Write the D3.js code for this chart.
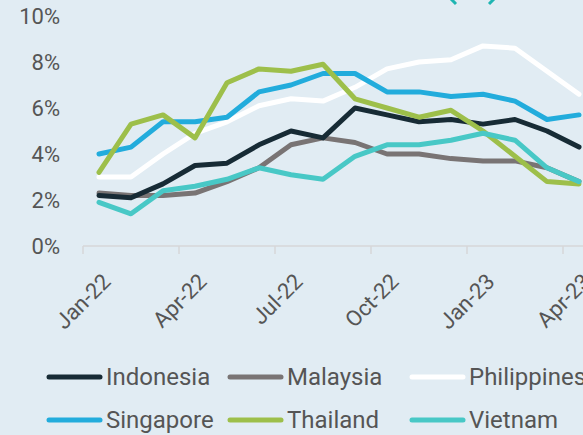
<!DOCTYPE html>
<html>
<head>
<meta charset="utf-8">
<script src="https://cdn.jsdelivr.net/npm/d3@7"></script>
<style>
  html, body { margin: 0; padding: 0; background: #e1ecf3; }
  svg { display: block; font-family: Roboto, "Noto Sans", sans-serif; }
</style>
</head>
<body>
<div id="chart"></div>
<script>
// monthly, Jan-22 .. Apr-23
var months = ["Jan-22","Feb-22","Mar-22","Apr-22","May-22","Jun-22","Jul-22","Aug-22",
              "Sep-22","Oct-22","Nov-22","Dec-22","Jan-23","Feb-23","Mar-23","Apr-23"];
var yTicks = [0, 2, 4, 6, 8, 10];

var indonesia   = [2.2, 2.1, 2.7, 3.5, 3.6, 4.4, 5.0, 4.7, 6.0, 5.7, 5.4, 5.5, 5.3, 5.5, 5.0, 4.3];
var malaysia    = [2.3, 2.2, 2.2, 2.3, 2.8, 3.4, 4.4, 4.7, 4.5, 4.0, 4.0, 3.8, 3.7, 3.7, 3.4, 2.8];
var philippines = [3.0, 3.0, 4.0, 4.9, 5.4, 6.1, 6.4, 6.3, 6.9, 7.7, 8.0, 8.1, 8.7, 8.6, 7.6, 6.6];
var singapore   = [4.0, 4.3, 5.4, 5.4, 5.6, 6.7, 7.0, 7.5, 7.5, 6.7, 6.7, 6.5, 6.6, 6.3, 5.5, 5.7];
var thailand    = [3.2, 5.3, 5.7, 4.7, 7.1, 7.7, 7.6, 7.9, 6.4, 6.0, 5.6, 5.9, 5.0, 3.9, 2.8, 2.7];
var vietnam     = [1.9, 1.4, 2.4, 2.6, 2.9, 3.4, 3.1, 2.9, 3.9, 4.4, 4.4, 4.6, 4.9, 4.6, 3.4, 2.8];

var seriesNames  = ["Indonesia", "Malaysia", "Philippines", "Singapore", "Thailand", "Vietnam"];
var seriesValues = [indonesia, malaysia, philippines, singapore, thailand, vietnam];
var seriesColors = ["#172b35", "#797474", "#ffffff", "#22acdc", "#9dbf4a", "#48c8c6"];

var width = 583, height = 435;
var margin = {left: 83, top: 16};
var plotW = 512, plotH = 230;

var svg = d3.select("#chart").append("svg")
    .attr("width", width)
    .attr("height", height);

svg.append("rect").attr("width", width).attr("height", height).attr("fill", "#e1ecf3");

var x = d3.scaleBand().domain(months).range([margin.left, margin.left + plotW]);
var y = d3.scaleLinear().domain([0, 10]).range([margin.top + plotH, margin.top]);

// y labels (no gridlines)
svg.append("g").selectAll("text")
    .data(yTicks)
    .enter().append("text")
    .attr("x", 60)
    .attr("y", function(d) { return y(d); })
    .attr("dy", "0.35em")
    .attr("text-anchor", "end")
    .attr("fill", "#555")
    .style("font-size", "22px")
    .text(function(d) { return d + "%"; });

// x axis line + ticks between categories every 3 months
var base = y(0);
svg.append("line")
    .attr("x1", margin.left).attr("x2", width)
    .attr("y1", base).attr("y2", base)
    .attr("stroke", "#d6d7d8").attr("stroke-width", 1.5);

var tickMonths = months.filter(function(m, i) { return i % 3 == 0; });
svg.append("g").selectAll("line")
    .data(tickMonths)
    .enter().append("line")
    .attr("x1", function(d) { return x(d); })
    .attr("x2", function(d) { return x(d); })
    .attr("y1", base).attr("y2", base + 8)
    .attr("stroke", "#d6d7d8").attr("stroke-width", 1.5);

svg.append("g").selectAll("text")
    .data(tickMonths)
    .enter().append("text")
    .attr("transform", function(d) {
        var cx = x(d) + x.bandwidth() / 2 + 13;
        return "translate(" + cx + "," + (base + 37) + ") rotate(-45)";
    })
    .attr("text-anchor", "end")
    .attr("fill", "#555")
    .style("font-size", "22px")
    .text(function(d) { return d; });

// lines
var line = d3.line()
    .x(function(d, i) { return x(months[i]) + x.bandwidth() / 2; })
    .y(function(d) { return y(d); });

var order = [2, 1, 0, 3, 4, 5];
order.forEach(function(k) {
    svg.append("path")
        .datum(seriesValues[k])
        .attr("d", line)
        .attr("fill", "none")
        .attr("stroke", seriesColors[k])
        .attr("stroke-width", 5)
        .attr("stroke-linejoin", "round")
        .attr("stroke-linecap", "round");
});

// cut-off teal mark at the top
svg.append("path").attr("d", "M451,-1 L456,4").attr("stroke", "#1fb5b2").attr("stroke-width", 3).attr("fill", "none");
svg.append("path").attr("d", "M494,-1 L489,4").attr("stroke", "#1fb5b2").attr("stroke-width", 3).attr("fill", "none");

// legend
var legX = [47, 228, 410], legY = [377, 420];
var legend = svg.append("g").selectAll("g")
    .data(seriesNames)
    .enter().append("g")
    .attr("transform", function(d, i) {
        return "translate(" + legX[i % 3] + "," + legY[Math.floor(i / 3)] + ")";
    });
legend.append("line")
    .attr("x1", 2).attr("x2", 53)
    .attr("stroke", function(d, i) { return seriesColors[i]; })
    .attr("stroke-width", 5)
    .attr("stroke-linecap", "round");
legend.append("text")
    .attr("x", 59)
    .attr("dy", "0.35em")
    .attr("fill", "#555")
    .style("font-size", "24px")
    .text(function(d) { return d; });
</script>
</body>
</html>
